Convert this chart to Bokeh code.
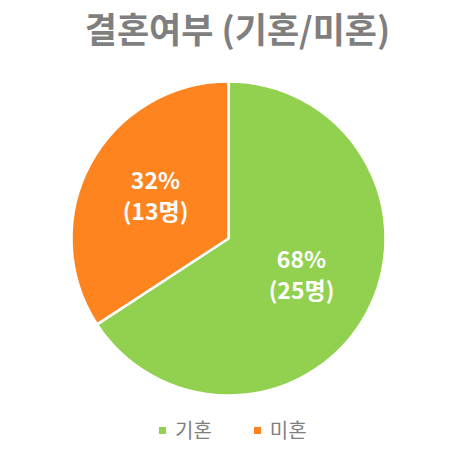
import numpy as np
from bokeh.plotting import figure
from bokeh.models import Range1d, Legend, LegendItem, ColumnDataSource
from bokeh.core.properties import value
from bokeh.embed import file_html
from bokeh.resources import INLINE

title_text = "결혼여부 (기혼/미혼)"
categories = ["기혼", "미혼"]
counts = [25, 13]
pct_labels = ["68%", "32%"]
colors = ["#92D050", "#FD841F"]

W, H = 444, 444
cx, cy, R = 228, H - 238, 157
FONT = "Noto Sans CJK KR"

total = sum(counts)
cum = np.cumsum([0] + counts)
starts = [np.pi / 2 - 2 * np.pi * cum[i] / total for i in range(len(counts))]
ends = [np.pi / 2 - 2 * np.pi * cum[i + 1] / total for i in range(len(counts))]
mids = [(s + e) / 2 for s, e in zip(starts, ends)]
lr = 83
lx = [cx + lr * np.cos(m) for m in mids]
ly = [cy + lr * np.sin(m) for m in mids]

src = ColumnDataSource(dict(
    start=starts, end=ends, color=colors, cat=categories,
    lx=lx, ly=ly, pct=pct_labels, cnt=[f"({c}명)" for c in counts],
))

p = figure(width=W, height=H, output_backend="svg", toolbar_location=None,
           x_range=Range1d(0, W), y_range=Range1d(0, H), min_border=0)
p.axis.visible = False
p.grid.visible = False
p.outline_line_color = None
p.background_fill_color = "white"

renderers = []
for i in range(len(counts)):
    r = p.wedge(x=cx, y=cy, radius=R, start_angle=starts[i], end_angle=ends[i],
                direction="clock", fill_color=colors[i], line_color="white",
                line_width=2.5)
    renderers.append(r)

p.text(x="lx", y="ly", text="pct", source=src, text_color="white",
       text_font=value(FONT), text_font_style="bold", text_font_size="23px",
       text_align="center", text_baseline="middle", y_offset=-20)
p.text(x="lx", y="ly", text="cnt", source=src, text_color="white",
       text_font=value(FONT), text_font_style="bold", text_font_size="23px",
       text_align="center", text_baseline="middle", y_offset=11)

p.text(x=[237], y=[H - 27], text=[title_text], text_color="#7F7F7F",
       text_font=value(FONT), text_font_style="bold", text_font_size="35px",
       text_align="center", text_baseline="middle")

legend = Legend(items=[LegendItem(label=categories[i], renderers=[renderers[i]])
                       for i in range(len(counts))],
                orientation="horizontal", location=(156, 0),
                glyph_width=12, glyph_height=12, label_standoff=7, spacing=39,
                padding=0, margin=0, border_line_color=None,
                background_fill_alpha=0,
                label_text_font=FONT, label_text_font_size="20px",
                label_text_color="#7F7F7F")
p.add_layout(legend)

open("out.html", "w").write(file_html(p, INLINE))
